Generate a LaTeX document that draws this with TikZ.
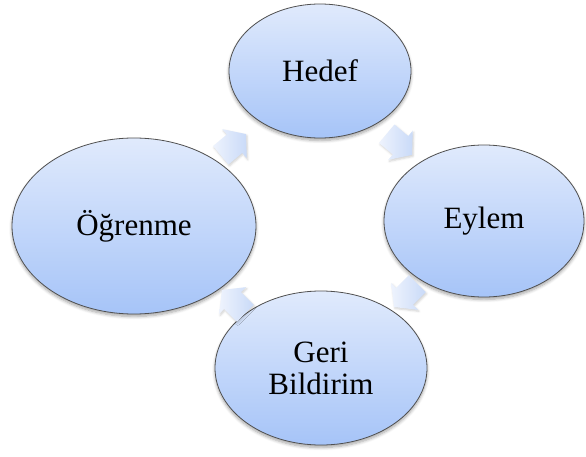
\documentclass[tikz,border=0pt]{standalone}
\usepackage{fontspec}
\setmainfont{Liberation Serif}
\usetikzlibrary{shapes.geometric,shadows.blur}

\definecolor{bubbletop}{HTML}{E0EAFC}
\definecolor{bubblebot}{HTML}{A6C4F8}
\definecolor{arrowtop}{HTML}{EEF3FD}
\definecolor{arrowbot}{HTML}{C9DAF8}
\definecolor{rimgray}{HTML}{505050}

\tikzset{
  bubble/.style={ellipse, draw=rimgray, line width=0.8pt, inner sep=0pt,
    top color=bubbletop, bottom color=bubblebot,
    blur shadow={shadow xshift=0pt, shadow yshift=-2.5pt,
      shadow blur radius=3pt, shadow blur steps=6, shadow opacity=35},
    font=\fontsize{31}{32}\selectfont, align=center, text=black},
  flowfill/.style={left color=arrowtop, right color=arrowbot, draw=none,
    blur shadow={shadow xshift=1pt, shadow yshift=-1.5pt,
      shadow blur radius=2pt, shadow blur steps=4, shadow opacity=18}},
  pics/flowarrow/.style={code={
    \path[flowfill] (-16,-12) -- (2,-12) -- (2,-19) -- (17,0) -- (2,19)
      -- (2,12) -- (-16,12) -- cycle;}}
}

\begin{document}
\begin{tikzpicture}[x=1pt,y=1pt]
  \useasboundingbox (0,0) rectangle (586,456);

  % the four stages of the cycle
  \node[bubble, minimum width=182pt, minimum height=134pt] (hedef) at (320,385) {Hedef};
  \node[bubble, minimum width=200pt, minimum height=152pt] (eylem) at (484,235) {Eylem};
  \node[bubble, minimum width=212pt, minimum height=154pt] (geri) at (321,88) {Geri\\Bildirim};
  \node[bubble, minimum width=244pt, minimum height=176pt] (ogrenme) at (134,230) {Öğrenme};

  % clockwise block arrows between the stages
  \pic[rotate=40]   (a1) at (233,311) {flowarrow};
  \pic[rotate=-40]  (a2) at (399,312) {flowarrow};
  \pic[rotate=-135] (a3) at (406,161) {flowarrow};
  \pic[rotate=135]  (a4) at (234,154) {flowarrow};
\end{tikzpicture}
\end{document}
